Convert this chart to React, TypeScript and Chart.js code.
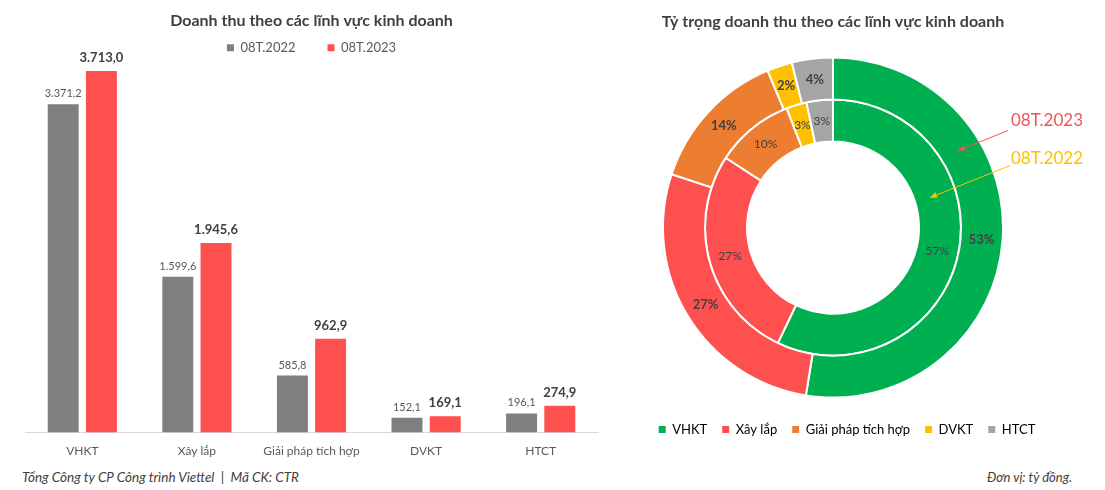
import React, { useEffect, useRef } from "react";
import { Chart, registerables } from "chart.js";

Chart.register(...registerables);

const categories = ["VHKT", "Xây lắp", "Giải pháp tích hợp", "DVKT", "HTCT"];
const seriesNames = ["08T.2022", "08T.2023"];
const revenue2022 = [3371.2, 1599.6, 585.8, 152.1, 196.1];
const revenue2023 = [3713.0, 1945.6, 962.9, 169.1, 274.9];
const share2022 = ["57%", "27%", "10%", "3%", "3%"];
const share2023 = ["53%", "27%", "14%", "2%", "4%"];
const barColors = ["#7F7F7F", "#FF5050"];
const sliceColors = ["#00B050", "#FF5050", "#ED7D31", "#FFC000", "#A5A5A5"];
const barTitle = "Doanh thu theo các lĩnh vực kinh doanh";
const pieTitle = "Tỷ trọng doanh thu theo các lĩnh vực kinh doanh";
const footerLeft = "Tổng Công ty CP Công trình Viettel  |  Mã CK: CTR";
const footerRight = "Đơn vị: tỷ đồng.";

const FONT = "Lato";

function fmt(v: number): string {
  const [i, d] = v.toFixed(1).split(".");
  return i.replace(/\B(?=(\d{3})+(?!\d))/g, ".") + "," + d;
}

const barLabelPlugin = {
  id: "barLabels",
  afterDatasetsDraw(chart: any) {
    const ctx = chart.ctx;
    chart.data.datasets.forEach((ds: any, di: number) => {
      const meta = chart.getDatasetMeta(di);
      meta.data.forEach((bar: any, i: number) => {
        ctx.save();
        ctx.font = di === 1 ? `bold 13px ${FONT}` : `11px ${FONT}`;
        ctx.fillStyle = di === 1 ? "#404040" : "#595959";
        ctx.textAlign = "center";
        ctx.textBaseline = "alphabetic";
        ctx.fillText(fmt(ds.data[i]), bar.x, bar.y - (di === 1 ? 9 : 7));
        ctx.restore();
      });
    });
  },
};

function drawArrow(ctx: CanvasRenderingContext2D, x1: number, y1: number, x2: number, y2: number, color: string) {
  ctx.save();
  ctx.strokeStyle = color;
  ctx.fillStyle = color;
  ctx.lineWidth = 1;
  ctx.beginPath();
  ctx.moveTo(x1, y1);
  ctx.lineTo(x2, y2);
  ctx.stroke();
  const a = Math.atan2(y2 - y1, x2 - x1);
  const h = 7;
  const w = 3;
  ctx.beginPath();
  ctx.moveTo(x2, y2);
  ctx.lineTo(x2 - h * Math.cos(a) + w * Math.sin(a), y2 - h * Math.sin(a) - w * Math.cos(a));
  ctx.lineTo(x2 - h * Math.cos(a) - w * Math.sin(a), y2 - h * Math.sin(a) + w * Math.cos(a));
  ctx.closePath();
  ctx.fill();
  ctx.restore();
}

const pieLabelPlugin = {
  id: "pieLabels",
  afterLayout(chart: any) {
    const l = chart.legend;
    if (l) {
      l.left += 14;
      l.right += 14;
    }
  },
  afterDatasetsDraw(chart: any) {
    const ctx = chart.ctx;
    const texts = [share2023, share2022];
    chart.data.datasets.forEach((ds: any, di: number) => {
      const meta = chart.getDatasetMeta(di);
      meta.data.forEach((arc: any, i: number) => {
        const p = arc.getCenterPoint();
        ctx.save();
        ctx.font = di === 0 ? `bold 13px ${FONT}` : `12px ${FONT}`;
        ctx.fillStyle = "#404040";
        ctx.textAlign = "center";
        ctx.textBaseline = "middle";
        ctx.fillText(texts[di][i], p.x, p.y);
        ctx.restore();
      });
    });
    const a0 = chart.getDatasetMeta(0).data[0];
    const cx = a0.x;
    const cy = a0.y;
    ctx.save();
    ctx.font = `17px ${FONT}`;
    ctx.textAlign = "center";
    ctx.textBaseline = "middle";
    ctx.fillStyle = "#F05454";
    ctx.fillText(seriesNames[1], cx + 214, cy - 107);
    ctx.fillStyle = "#FFC000";
    ctx.fillText(seriesNames[0], cx + 214, cy - 69);
    ctx.restore();
    drawArrow(ctx, cx + 175, cy - 97, cx + 125, cy - 77, "#F05454");
    drawArrow(ctx, cx + 177, cy - 62, cx + 97, cy - 30, "#FFC000");
  },
};

export default function App() {
  const barRef = useRef<HTMLCanvasElement>(null);
  const pieRef = useRef<HTMLCanvasElement>(null);

  useEffect(() => {
    const bar = new Chart(barRef.current as HTMLCanvasElement, {
      type: "bar",
      data: {
        labels: categories,
        datasets: [
          {
            label: seriesNames[0],
            data: revenue2022,
            backgroundColor: barColors[0],
            barPercentage: 0.81,
            categoryPercentage: 0.667,
          },
          {
            label: seriesNames[1],
            data: revenue2023,
            backgroundColor: barColors[1],
            barPercentage: 0.81,
            categoryPercentage: 0.667,
          },
        ],
      },
      options: {
        animation: false,
        responsive: false,
        layout: { padding: { left: 25, right: 22, top: 0, bottom: 0 } },
        plugins: {
          title: {
            display: true,
            text: barTitle,
            color: "#404040",
            font: { family: FONT, size: 16, weight: "bold" },
            padding: { top: 11, bottom: -21 },
          },
          legend: {
            maxHeight: 51,
            labels: {
              boxWidth: 7,
              boxHeight: 7,
              padding: 32,
              color: "#595959",
              font: { family: FONT, size: 13 },
            },
          },
          tooltip: { enabled: false },
        },
        scales: {
          x: {
            grid: { display: false, drawTicks: false },
            border: { display: true, color: "#D9D9D9" },
            ticks: { color: "#595959", font: { family: FONT, size: 12 }, padding: 11 },
          },
          y: { display: false, min: 0, max: 3823 },
        },
      } as any,
      plugins: [barLabelPlugin],
    });

    const pie = new Chart(pieRef.current as HTMLCanvasElement, {
      type: "doughnut",
      data: {
        labels: categories,
        datasets: [
          { label: seriesNames[1], data: revenue2023, backgroundColor: sliceColors, borderColor: "#FFFFFF", borderWidth: 2 },
          { label: seriesNames[0], data: revenue2022, backgroundColor: sliceColors, borderColor: "#FFFFFF", borderWidth: 2 },
        ],
      },
      options: {
        animation: false,
        responsive: false,
        radius: 170,
        cutout: "50.6%",
        layout: { padding: 0 },
        plugins: {
          title: {
            display: true,
            text: pieTitle,
            color: "#404040",
            font: { family: FONT, size: 16, weight: "bold" },
            padding: { top: 12, bottom: 16 },
          },
          legend: {
            position: "bottom",
            labels: {
              boxWidth: 7,
              boxHeight: 7,
              padding: 15,
              color: "#595959",
              font: { family: FONT, size: 13 },
              generateLabels: (chart: any) =>
                chart.data.labels.map((t: string, i: number) => ({
                  text: t,
                  fillStyle: sliceColors[i],
                  strokeStyle: sliceColors[i],
                  lineWidth: 0,
                  index: i,
                  hidden: false,
                })),
            },
          },
          tooltip: { enabled: false },
        },
      } as any,
      plugins: [pieLabelPlugin],
    });

    return () => {
      bar.destroy();
      pie.destroy();
    };
  }, []);

  return (
    <div style={{ position: "absolute", left: 0, top: 0, width: 1105, height: 490, background: "#FFFFFF", overflow: "hidden" }}>
      <canvas ref={barRef} width={620} height={469} style={{ position: "absolute", left: 0, top: 0 }} />
      <canvas ref={pieRef} width={534} height={446} style={{ position: "absolute", left: 566, top: 0 }} />
      <div style={{ position: "absolute", left: 22, top: 469, fontFamily: FONT, fontStyle: "italic", fontSize: 13.5, color: "#404040", whiteSpace: "pre" }}>
        {footerLeft}
      </div>
      <div style={{ position: "absolute", right: 33, top: 469, fontFamily: FONT, fontStyle: "italic", fontSize: 13, color: "#404040", whiteSpace: "pre" }}>
        {footerRight}
      </div>
    </div>
  );
}
